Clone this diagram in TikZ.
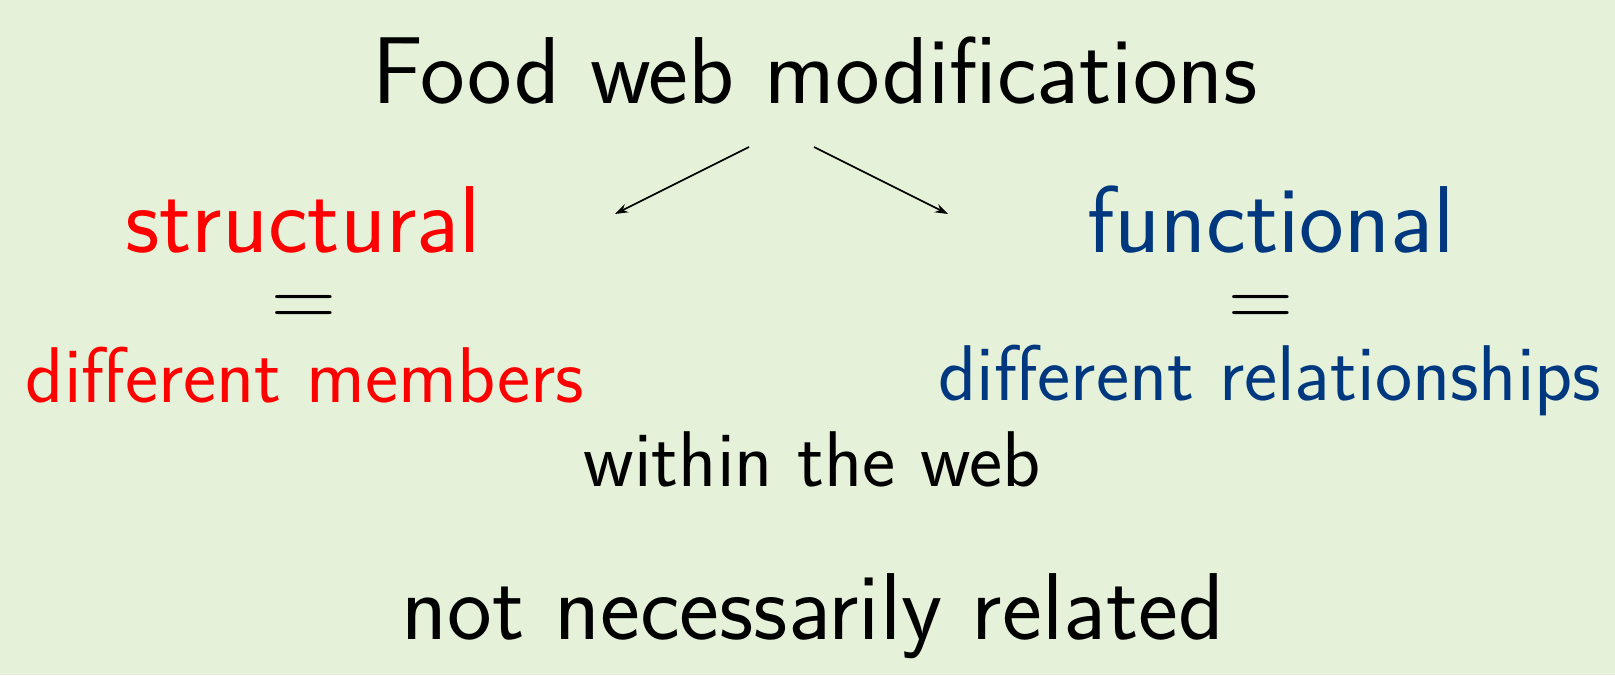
\documentclass[tikz,border=0pt]{standalone}
\usepackage{fontspec}
\usetikzlibrary{arrows.meta}
\definecolor{bgGreen}{RGB}{229,242,217}
\definecolor{fnBlue}{RGB}{0,56,128}
\definecolor{stRed}{RGB}{255,0,0}
\tikzset{
  txt/.style={inner sep=0pt, anchor=base, font=\sffamily\fontsize{#1}{#1}\selectfont},
  eqsign/.style={inner sep=0pt, anchor=base, text height=33pt, text depth=0pt,
    font=\rmfamily\fontsize{90}{90}\selectfont},
  branch/.style={line width=1.7pt, -{Stealth[length=13pt,width=9pt]}}
}
\begin{document}
\begin{tikzpicture}[x=1pt,y=1pt]
  \fill[bgGreen] (0,0) rectangle (1615,-675);
  \useasboundingbox (0,0) rectangle (1615,-675);

  \node[txt=95] (title) at (815,-103) {Food web modifications};

  \node[txt=95, text=stRed] (struct) at (303,-252) {structural};
  \node[eqsign] (eqL) at (304,-327) {=};
  \node[txt=79, text=stRed] (members) at (305,-402) {different members};

  \node[txt=95, text=fnBlue] (funct) at (1271,-252) {functional};
  \node[eqsign] (eqR) at (1261,-327) {=};
  \node[txt=79, text=fnBlue] (relations) at (1270,-400) {different relationships};

  \node[txt=79] (within) at (812,-486) {within the web};
  \node[txt=95] (notrel) at (813,-639) {not necessarily related};

  % branch arrows from the title down to the two categories
  \coordinate (aLs) at (749,-147);
  \coordinate (aLe) at (615,-214);
  \coordinate (aRs) at (814,-147);
  \coordinate (aRe) at (948,-214);
  \draw[branch] (aLs) -- (aLe);
  \draw[branch] (aRs) -- (aRe);
\end{tikzpicture}
\end{document}
